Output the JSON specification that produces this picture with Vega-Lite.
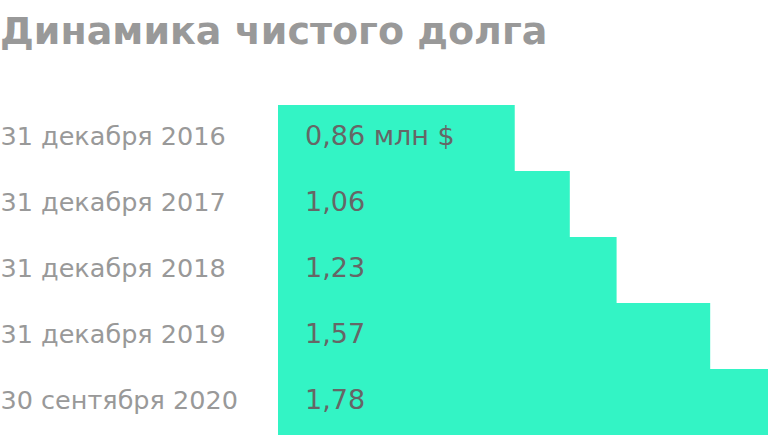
{
  "$schema": "https://vega.github.io/schema/vega-lite/v6.json",
  "width": 490,
  "height": 330,
  "padding": {"top": 14, "left": 0, "right": 0, "bottom": 0},
  "background": "white",
  "title": {
    "text": "Динамика чистого долга",
    "anchor": "start",
    "frame": "bounds",
    "font": "DejaVu Sans",
    "fontSize": 38,
    "fontWeight": "bold",
    "color": "#999999",
    "offset": 53
  },
  "data": {
    "values": [
      {"date": "31 декабря 2016", "debt": 0.86, "label": "0,86 млн $"},
      {"date": "31 декабря 2017", "debt": 1.06, "label": "1,06"},
      {"date": "31 декабря 2018", "debt": 1.23, "label": "1,23"},
      {"date": "31 декабря 2019", "debt": 1.57, "label": "1,57"},
      {"date": "30 сентября 2020", "debt": 1.78, "label": "1,78"}
    ]
  },
  "encoding": {
    "y": {
      "field": "date",
      "type": "nominal",
      "sort": null,
      "scale": {"paddingInner": 0, "paddingOuter": 0},
      "axis": {
        "title": null,
        "domain": false,
        "ticks": false,
        "grid": false,
        "labelAlign": "left",
        "labelPadding": 278,
        "labelLimit": 300,
        "labelFont": "DejaVu Sans",
        "labelFontSize": 25.5,
        "labelColor": "#999999",
        "labelOffset": -1
      }
    }
  },
  "layer": [
    {
      "mark": {"type": "bar", "color": "#33f4c5"},
      "encoding": {
        "x": {
          "field": "debt",
          "type": "quantitative",
          "scale": {"domain": [0, 1.78], "nice": false},
          "axis": null
        }
      }
    },
    {
      "mark": {
        "type": "text",
        "align": "left",
        "baseline": "middle",
        "dx": 27,
        "dy": -1,
        "font": "DejaVu Sans",
        "fontSize": 27,
        "color": "#666666"
      },
      "encoding": {
        "x": {"datum": 0, "type": "quantitative"},
        "text": {"field": "label"}
      }
    }
  ],
  "config": {
    "view": {"stroke": null}
  }
}
